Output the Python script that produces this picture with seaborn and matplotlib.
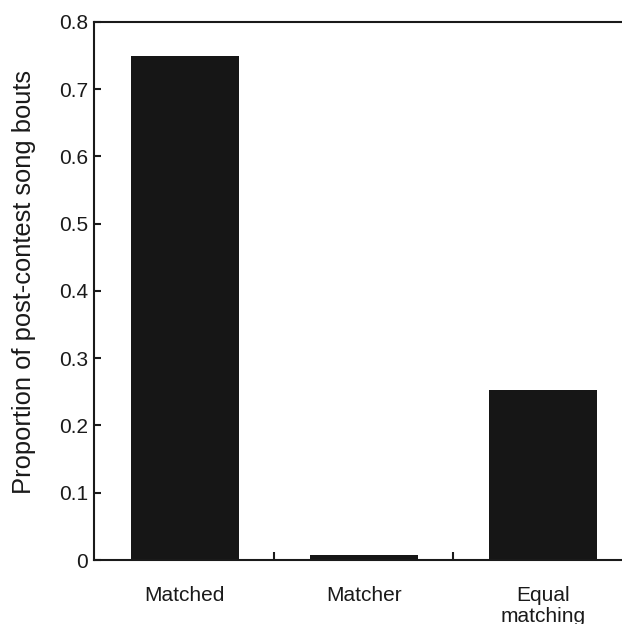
import matplotlib
matplotlib.use("Agg")
import matplotlib.pyplot as plt
import seaborn as sns
import pandas as pd
from matplotlib.ticker import FixedLocator

categories = ["Matched", "Matcher", "Equal\nmatching"]
proportions = [0.749, 0.007, 0.253]
yticks = [0, 0.1, 0.2, 0.3, 0.4, 0.5, 0.6, 0.7, 0.8]
ytick_labels = ["0", "0.1", "0.2", "0.3", "0.4", "0.5", "0.6", "0.7", "0.8"]
ylabel = "Proportion of post-contest song bouts"

sns.set_style("white")
plt.rcParams["font.family"] = ["Liberation Sans", "DejaVu Sans"]

df = pd.DataFrame({"category": categories, "proportion": proportions})

fig = plt.figure(figsize=(6.22, 6.24), dpi=100)
W, H = 622, 624
left_px, top_px, bottom_px = 93.6, 21.8, 560.0
unit = 179.0
x0, x1 = -0.51, 2.5
ax = fig.add_axes([left_px / W, (H - bottom_px) / H,
                   (x1 - x0) * unit / W, (bottom_px - top_px) / H])

sns.barplot(data=df, x="category", y="proportion", order=categories,
            color="#161616", saturation=1, width=0.6, ax=ax, linewidth=0)

ax.set_xlim(x0, x1)
ax.set_ylim(0, 0.8)
ax.set_yticks(yticks)
ax.set_yticklabels(ytick_labels)
ax.set_xlabel("")
ax.set_ylabel(ylabel, fontsize=18.4, color="#1a1a1a")
ax.yaxis.set_label_coords(-0.106, 0.517)

for side in ["left", "bottom", "top"]:
    ax.spines[side].set_visible(True)
    ax.spines[side].set_linewidth(1.5)
    ax.spines[side].set_color("#1a1a1a")
ax.spines["right"].set_visible(False)

ax.tick_params(axis="y", direction="in", length=5, width=1.5, color="#1a1a1a",
               labelsize=15, labelcolor="#1a1a1a", pad=4, left=True)
ax.tick_params(axis="x", which="major", length=0, labelsize=15,
               labelcolor="#1a1a1a", pad=19)
ax.xaxis.set_minor_locator(FixedLocator([0.5, 1.5]))
ax.tick_params(axis="x", which="minor", direction="in", length=6, width=1.5,
               color="#1a1a1a", bottom=True)
for lbl in ax.get_xticklabels():
    lbl.set_linespacing(1.1)

fig.savefig("out.png", dpi=100)
